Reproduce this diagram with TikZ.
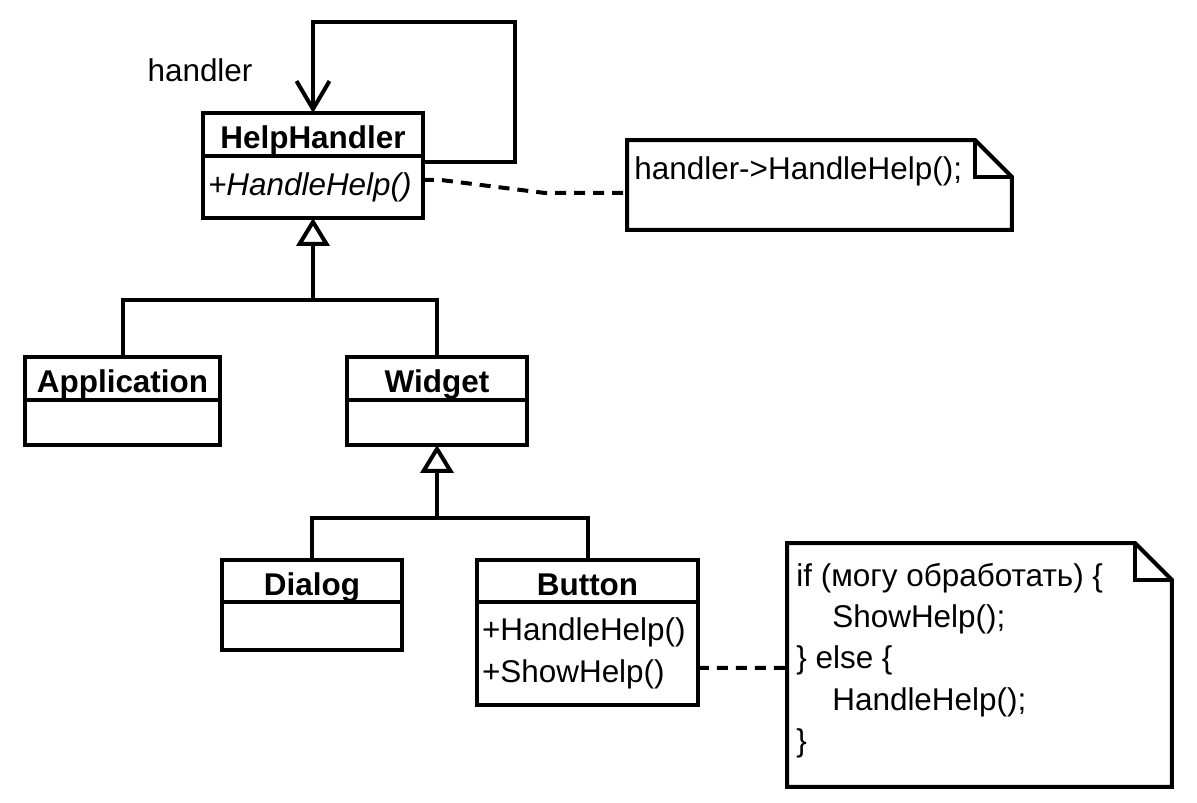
\documentclass[tikz,border=0pt]{standalone}
\usepackage{fontspec}
\setmainfont{Liberation Sans}
\usetikzlibrary{arrows.meta, positioning}

\newcommand\umlsize{\fontsize{17.9}{22.7}\selectfont}

\tikzset{
  uml/.style={draw=black, line width=0.08cm, outer sep=0pt, inner sep=0.1cm},
  head/.style={uml, font=\umlsize\bfseries, minimum height=0.86cm,
    inner ysep=0pt, text height=0.58cm, text depth=0cm},
  body/.style={uml, font=\umlsize, align=left, below=0pt of #1},
  link/.style={line width=0.08cm},
  isa/.style={link, -{Triangle[open, length=0.56cm, width=0.66cm]}},
  ref/.style={link, -{Straight Barb[length=0.56cm, width=0.66cm]}},
  dep/.style={link, dash pattern=on 0.22cm off 0.16cm},
  notebox/.style={minimum width=7.7cm, outer sep=0pt, inner sep=0pt},
  notetext/.style={inner sep=0pt, align=left},
}

\begin{document}
\begin{tikzpicture}[x=0.02cm, y=-0.02cm, font=\umlsize]
\useasboundingbox (0,0) rectangle (1197,803);

% classes
\node[head, minimum width=4.4cm] (hh) at (313,134.5) {HelpHandler};
\node[body=hh, text width=4.2cm, minimum height=1.24cm] (hhb) {\textit{+HandleHelp()}};

\node[head, minimum width=3.9cm] (app) at (122.5,378.5) {Application};
\node[body=app, minimum width=3.9cm, minimum height=0.9cm] (appb) {};

\node[head, minimum width=3.6cm] (wid) at (437,378.5) {Widget};
\node[body=wid, minimum width=3.6cm, minimum height=0.9cm] (widb) {};

\node[head, minimum width=3.6cm, minimum height=0.84cm] (dlg) at (312,581) {Dialog};
\node[body=dlg, minimum width=3.6cm, minimum height=0.96cm] (dlgb) {};

\node[head, minimum width=4.42cm, minimum height=0.84cm] (btn) at (587.5,581) {Button};
\node[body=btn, text width=4.22cm, minimum height=2.06cm] (btnb) {+HandleHelp()\\[0.05cm]+ShowHelp()};

% notes
\node[notebox, minimum height=1.8cm] (n1) at (819.5,185) {};
\draw[link] (n1.north west) -- ([xshift=-0.74cm]n1.north east) -- ([yshift=-0.74cm]n1.north east)
  -- (n1.south east) -- (n1.south west) -- cycle;
\draw[link] ([xshift=-0.74cm]n1.north east) |- ([yshift=-0.74cm]n1.north east);
\node[notetext, anchor=base west] (n1t) at (634,180) {handler->HandleHelp();};

\node[notebox, minimum height=4.88cm] (n2) at (979.5,665) {};
\draw[link] (n2.north west) -- ([xshift=-0.74cm]n2.north east) -- ([yshift=-0.74cm]n2.north east)
  -- (n2.south east) -- (n2.south west) -- cycle;
\draw[link] ([xshift=-0.74cm]n2.north east) |- ([yshift=-0.74cm]n2.north east);
\node[notetext, anchor=north west, font=\fontsize{17.9}{23.5}\selectfont] (n2t) at (796,563)
  {if (могу обработать) \{\\
   \hspace*{0.72cm}ShowHelp();\\
   \} else \{\\
   \hspace*{0.72cm}HandleHelp();\\
   \}};

% links
\coordinate (j1) at (313,300);
\coordinate (j2) at (437,518);
\draw[link] (app.north) |- (j1) -| (wid.north);
\draw[isa] (j1) -- (hhb.south);
\draw[link] (dlg.north) |- (j2) -| (btn.north);
\draw[isa] (j2) -- (widb.south);

\draw[ref] ([yshift=-0.12cm]hhb.north east) -- ++(92,0) -- ++(0,-140) -| (hh.north);
\node[inner sep=0pt] (lbl) at (200,70) {handler};

\draw[dep] ([yshift=0.14cm]hhb.east) -- ++(18,0) -- (545,193) -- ([yshift=-0.16cm]n1.west);
\draw[dep] ([yshift=-0.29cm]btnb.east) -- ([yshift=-0.06cm]n2.west);
\end{tikzpicture}
\end{document}
